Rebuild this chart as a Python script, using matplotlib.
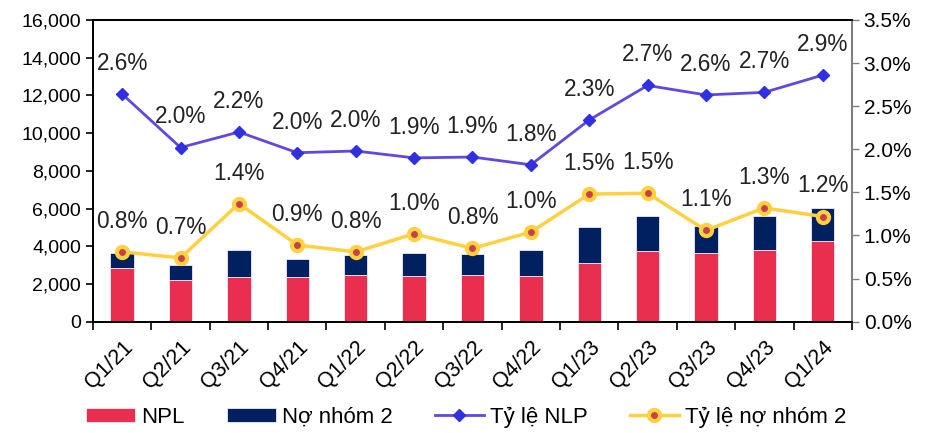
import matplotlib.pyplot as plt
from matplotlib.ticker import FuncFormatter, FixedLocator

# Data
quarters = ["Q1/21", "Q2/21", "Q3/21", "Q4/21", "Q1/22", "Q2/22", "Q3/22",
            "Q4/22", "Q1/23", "Q2/23", "Q3/23", "Q4/23", "Q1/24"]
npl = [2870, 2200, 2350, 2350, 2470, 2400, 2470, 2400, 3130, 3730, 3660, 3780, 4290]
group2 = [780, 790, 1430, 960, 1050, 1260, 1120, 1380, 1870, 1870, 1410, 1820, 1750]
npl_ratio = [2.64, 2.02, 2.20, 1.96, 1.98, 1.90, 1.91, 1.82, 2.34, 2.74, 2.63, 2.66, 2.86]
group2_ratio = [0.81, 0.74, 1.37, 0.89, 0.81, 1.02, 0.85, 1.04, 1.48, 1.49, 1.06, 1.32, 1.22]

plt.rcParams["font.family"] = ["Liberation Sans", "DejaVu Sans"]

fig = plt.figure(figsize=(9.25, 4.33), dpi=100)
ax = fig.add_axes([0.1005, 0.257, 0.8205, 0.697])
ax2 = ax.twinx()

x = list(range(len(quarters)))
ax.bar(x, npl, width=0.4, color="#EA2E4F", edgecolor="white", linewidth=0.5, label="NPL")
ax.bar(x, group2, width=0.4, bottom=npl, color="#00205F", edgecolor="white",
       linewidth=0.5, label="Nợ nhóm 2")

ax2.plot(x, npl_ratio, color="#6446E0", lw=2, marker="D", ms=6,
         mfc="#3030E0", mec="#3030E0", label="Tỷ lệ NLP")
ax2.plot(x, group2_ratio, color="#FFD040", lw=2.5, marker="o", ms=8,
         mfc="#C8404A", mec="#FFD040", mew=3, label="Tỷ lệ nợ nhóm 2")

for xi, v in zip(x, npl_ratio):
    ax2.annotate(f"{v:.1f}%", (xi, v), xytext=(0, 22), textcoords="offset points",
                 ha="center", va="center", fontsize=16.3, color="#222222")
for xi, v in zip(x, group2_ratio):
    ax2.annotate(f"{v:.1f}%", (xi, v), xytext=(0, 22), textcoords="offset points",
                 ha="center", va="center", fontsize=16.3, color="#222222")

ax.set_xlim(-0.5, len(quarters) - 0.5)
ax.set_ylim(0, 16000)
ax.set_yticks(range(0, 16001, 2000))
ax.yaxis.set_major_formatter(FuncFormatter(lambda v, p: f"{v:,.0f}"))
ax2.set_ylim(0, 3.5)
ax2.set_yticks([i * 0.5 for i in range(8)])
ax2.yaxis.set_major_formatter(FuncFormatter(lambda v, p: f"{v:.1f}%"))

ax.set_xticks(x)
ax.set_xticklabels(quarters, rotation=45, ha="right", rotation_mode="anchor", fontsize=15.5)
ax.tick_params(axis="x", which="major", length=0, pad=11)
ax.xaxis.set_minor_locator(FixedLocator([i - 0.5 for i in range(len(quarters) + 1)]))
ax.tick_params(axis="x", which="minor", length=6, width=1.2, direction="out")
ax.tick_params(axis="y", labelsize=14, length=5, width=1.2, direction="out")
ax2.tick_params(axis="y", labelsize=15, length=5, width=1, color="#808080", direction="out")

for s in ["left", "bottom", "top"]:
    ax.spines[s].set_linewidth(1.3)
    ax2.spines[s].set_linewidth(1.3)
ax2.spines["right"].set_color("#808080")
ax2.spines["right"].set_linewidth(1.5)
ax.spines["right"].set_visible(False)

h1, l1 = ax.get_legend_handles_labels()
h2, l2 = ax2.get_legend_handles_labels()
fig.legend(h1 + h2, l1 + l2, loc="center", bbox_to_anchor=(0.504, 0.037), ncol=4,
           frameon=False, fontsize=16, handlelength=2.2, handleheight=0.6,
           handletextpad=0.27, columnspacing=1.9, borderaxespad=0, borderpad=0)

fig.savefig("out.png", dpi=100)
